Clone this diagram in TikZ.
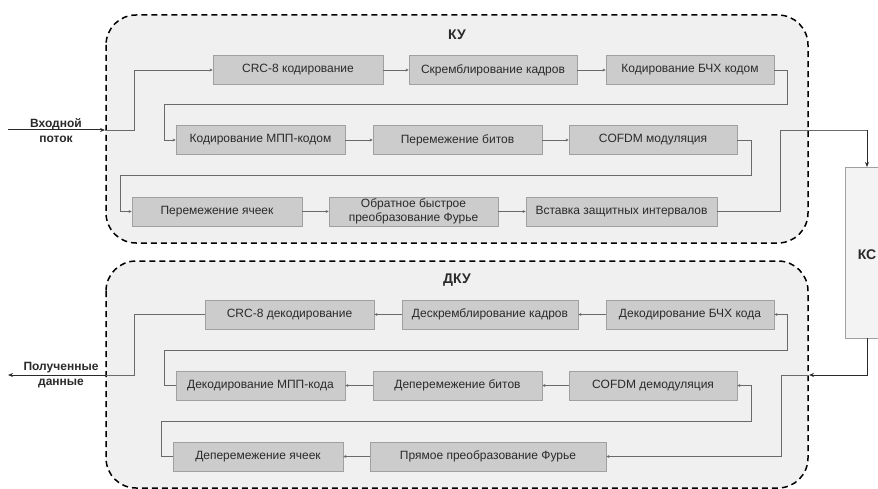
\documentclass[tikz,border=0pt]{standalone}
\usepackage{fontspec}
\setmainfont{Liberation Sans}
\usetikzlibrary{arrows.meta}
\definecolor{contfill}{HTML}{F0F0F0}
\definecolor{boxfill}{HTML}{CCCCCC}
\definecolor{boxline}{HTML}{A0A0A0}
\definecolor{txt}{HTML}{2A2A2A}
\definecolor{conncol}{HTML}{6A6A6A}
\definecolor{ksfill}{HTML}{F3F3F3}
\tikzset{
  blk/.style={draw=boxline, fill=boxfill, line width=0.8pt, text=txt, inner sep=0pt,
    font=\fontsize{12}{13.5}\selectfont, align=center, minimum height=29pt},
  cont/.style={draw=black, fill=contfill, line width=1.5pt, dash pattern=on 6pt off 4pt, rounded corners=30pt},
  conn/.style={draw=conncol, line width=0.8pt, -{Stealth[length=3pt,width=3pt]}},
  plainconn/.style={draw=conncol, line width=0.8pt},
  bigarrow/.style={draw=txt, line width=1pt, -{Stealth[length=5pt,width=4pt]}},
  lbl/.style={font=\bfseries\fontsize{12}{15}\selectfont, text=txt, align=center, inner sep=0pt},
  ttl/.style={font=\bfseries\fontsize{14}{16}\selectfont, text=txt, inner sep=0pt}
}
\begin{document}
\begin{tikzpicture}[x=1pt,y=-1pt]
\useasboundingbox (0,0) rectangle (878,489);
% containers
\draw[cont] (106,15) rectangle (808,243);
\draw[cont] (106,261) rectangle (808,488);
\node[ttl] (ku) at (457,35) {КУ};
\node[ttl] (dku) at (457,280) {ДКУ};
% KS
\node[draw=boxline, fill=ksfill, line width=0.8pt, minimum width=60pt, minimum height=171pt, inner sep=0pt] (ks) at (875,252.5) {};
\coordinate (ksin) at (867,167);
\coordinate (ksout) at (867,338);
\node[ttl] (kst) at (867,255) {КС};
% top boxes
\node[blk, minimum width=170pt] (c1) at (298,70) {CRC-8 кодирование};
\node[blk, minimum width=168pt] (c2) at (493,70) {Скремблирование кадров};
\node[blk, minimum width=168pt] (c3) at (690,70) {Кодирование БЧХ кодом};
\node[blk, minimum width=169pt] (c4) at (260.5,140) {Кодирование МПП-кодом};
\node[blk, minimum width=169pt] (c5) at (457.5,140) {Перемежение битов};
\node[blk, minimum width=168pt] (c6) at (653,140) {COFDM модуляция};
\node[blk, minimum width=170pt] (c7) at (217,211.5) {Перемежение ячеек};
\node[blk, minimum width=169pt] (c8) at (413.5,211.5) {Обратное быстрое\\преобразование Фурье};
\node[blk, minimum width=191pt] (c9) at (621.5,211.5) {Вставка защитных интервалов};
% bottom boxes
\node[blk, minimum width=169pt] (d1) at (289.5,314.5) {CRC-8 декодирование};
\node[blk, minimum width=176pt] (d2) at (490,314.5) {Дескремблирование кадров};
\node[blk, minimum width=168pt] (d3) at (690,314.5) {Декодирование БЧХ кода};
\node[blk, minimum width=169pt] (d4) at (260.5,385.5) {Декодирование МПП-кода};
\node[blk, minimum width=169pt] (d5) at (457.5,385.5) {Деперемежение битов};
\node[blk, minimum width=168pt] (d6) at (653,385.5) {COFDM демодуляция};
\node[blk, minimum width=170pt] (d7) at (258,456.5) {Деперемежение ячеек};
\node[blk, minimum width=236pt] (d8) at (488,456.5) {Прямое преобразование Фурье};
% external labels
\node[lbl] (inl) at (56,130.5) {Входной\\поток};
\node[lbl] (outl) at (61,375.5) {Полученные\\данные};
\coordinate (in1) at (8,130);
\coordinate (kuin) at (105,130);
\coordinate (out1) at (8,375);
\coordinate (dkuout) at (106,375);
\coordinate (dkuin) at (809,375);
% top chain
\draw[bigarrow] (in1) -- (kuin);
\draw[conn] (kuin) -- (134,130) |- (c1.west);
\draw[conn] (c1) -- (c2);
\draw[conn] (c2) -- (c3);
\draw[conn] (c3.east) -- (787,70) |- (164,104) |- (c4.west);
\draw[conn] (c4) -- (c5);
\draw[conn] (c5) -- (c6);
\draw[conn] (c6.east) -- (751,140) |- (120,175) |- (c7.west);
\draw[conn] (c7) -- (c8);
\draw[conn] (c8) -- (c9);
\draw[plainconn] (c9.east) -- (780,211.5) |- (867,130);
\draw[bigarrow] (867,130) -- (ksin);
% bottom chain
\draw[bigarrow] (ksout) |- (dkuin);
\draw[conn] (dkuin) -- (781,375) |- (d8.east);
\draw[conn] (d8) -- (d7);
\draw[conn] (d7.west) -- (161,456.5) |- (751,421) |- (d6.east);
\draw[conn] (d6) -- (d5);
\draw[conn] (d5) -- (d4);
\draw[conn] (d4.west) -- (164,385.5) |- (787,350) |- (d3.east);
\draw[conn] (d3) -- (d2);
\draw[conn] (d2) -- (d1);
\draw[plainconn] (d1.west) -- (134,314.5) |- (dkuout);
\draw[bigarrow] (dkuout) -- (out1);
\end{tikzpicture}
\end{document}
